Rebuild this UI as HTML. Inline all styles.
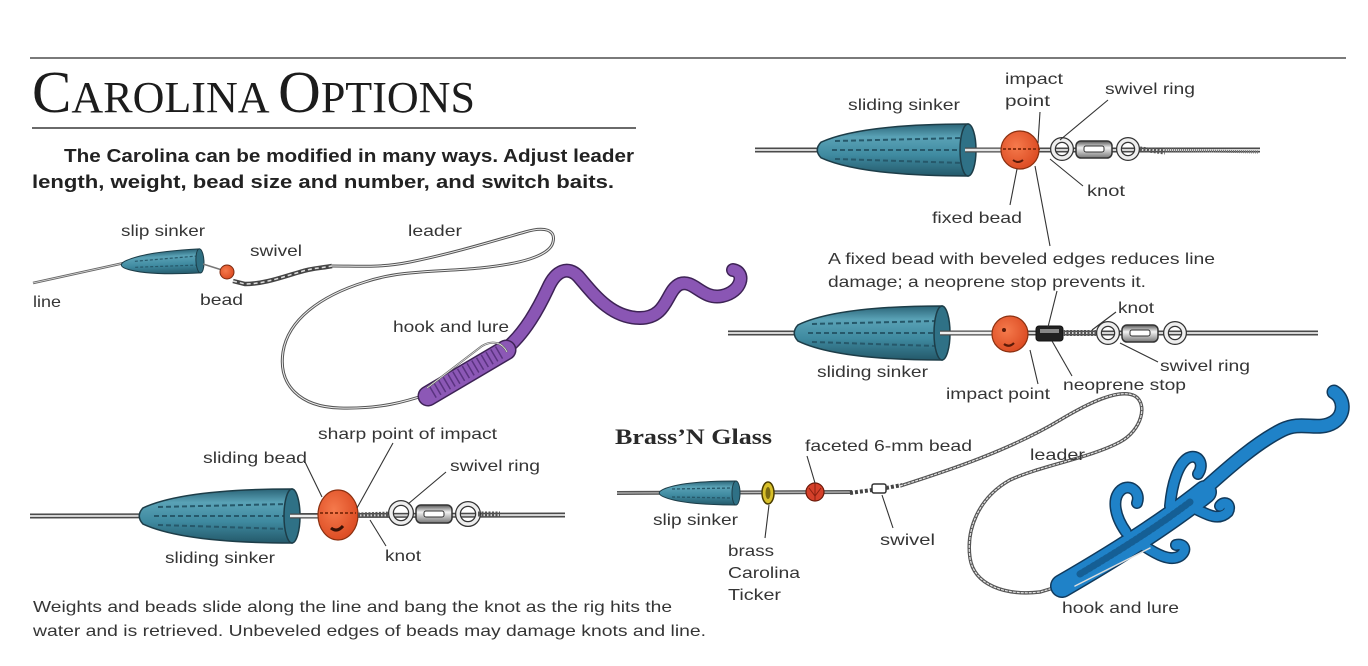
<!DOCTYPE html>
<html><head><meta charset="utf-8"><style>
html,body{margin:0;padding:0;background:#fff;}
svg{display:block;}
.lb{font-family:"Liberation Sans",sans-serif;font-size:16px;fill:#353535;}
.ld{stroke:#333;stroke-width:1.1;fill:none;}
</style></head><body>
<svg width="1368" height="666" viewBox="0 0 1368 666" xmlns="http://www.w3.org/2000/svg">
<defs>
<linearGradient id="tl" x1="0" y1="0" x2="0" y2="1">
<stop offset="0" stop-color="#2b6477"/><stop offset="0.25" stop-color="#5aa2b6"/><stop offset="0.6" stop-color="#3f8aa0"/><stop offset="1" stop-color="#24596a"/>
</linearGradient>
<linearGradient id="mt" x1="0" y1="0" x2="0" y2="1">
<stop offset="0" stop-color="#555"/><stop offset="0.4" stop-color="#f2f2f2"/><stop offset="1" stop-color="#777"/>
</linearGradient>
<radialGradient id="or" cx="0.4" cy="0.4" r="0.7">
<stop offset="0" stop-color="#f57a4c"/><stop offset="1" stop-color="#d9461e"/>
</radialGradient>
</defs>

<!-- header -->
<line x1="30" y1="58" x2="1346" y2="58" stroke="#7a7a7a" stroke-width="2"/>
<text x="32" y="112" font-family="Liberation Serif,serif" fill="#1c1c1c" textLength="443" lengthAdjust="spacingAndGlyphs"><tspan font-size="59">C</tspan><tspan font-size="44">AROLINA </tspan><tspan font-size="59">O</tspan><tspan font-size="44">PTIONS</tspan></text>
<line x1="32" y1="128" x2="636" y2="128" stroke="#6a6a6a" stroke-width="2"/>
<text x="64" y="162" font-family="Liberation Sans,sans-serif" font-weight="bold" font-size="18" fill="#222" textLength="570" lengthAdjust="spacingAndGlyphs">The Carolina can be modified in many ways.  Adjust leader</text>
<text x="32" y="188" font-family="Liberation Sans,sans-serif" font-weight="bold" font-size="18" fill="#222" textLength="582" lengthAdjust="spacingAndGlyphs">length, weight, bead size and number, and switch baits.</text>

<!-- ================= TOP LEFT RIG ================= -->
<path d="M33,283 L124,263" stroke="#666" stroke-width="2.5" fill="none"/>
<path d="M33,283 L124,263" stroke="#ddd" stroke-width="0.8" fill="none"/>
<g transform="rotate(-3 160 263)">
<path d="M125,259.4 C141.5,252.2 176.6,251 200,251 L200,275 C176.6,275 141.5,273.8 125,266.6 C120,264.2 120,261.8 125,259.4 Z" fill="url(#tl)" stroke="#1d3d48" stroke-width="1"/>
<ellipse cx="200" cy="263" rx="4" ry="12" fill="#2f6f82" stroke="#1d3d48" stroke-width="1"/>
<line x1="135" y1="260" x2="196" y2="258" stroke="#26586a" stroke-width="1.2" stroke-dasharray="3 2"/>
<line x1="135" y1="266" x2="196" y2="267" stroke="#26586a" stroke-width="1.2" stroke-dasharray="3 2"/>
</g>
<line x1="203" y1="264" x2="222" y2="270" stroke="#777" stroke-width="1.5"/>
<circle cx="227" cy="272" r="7" fill="url(#or)" stroke="#7a2a10" stroke-width="1"/>
<!-- chain swivel -->
<path d="M233,281 L245,284 C265,284 285,276 300,272 C312,268 322,268 332,266" stroke="#444" stroke-width="4.5" fill="none"/>
<path d="M233,281 L245,284 C265,284 285,276 300,272 C312,268 322,268 332,266" stroke="#ddd" stroke-width="1.5" fill="none" stroke-dasharray="4 3"/>
<!-- leader -->
<path d="M332,266 C360,266 380,268 410,262 C450,254 490,242 525,232 C545,226 556,230 553,242 C550,256 520,264 480,268 C440,272 400,270 365,282 C320,296 288,320 283,352 C278,385 300,407 340,408 C380,409 405,402 428,394" stroke="#555" stroke-width="3" fill="none"/>
<path d="M332,266 C360,266 380,268 410,262 C450,254 490,242 525,232 C545,226 556,230 553,242 C550,256 520,264 480,268 C440,272 400,270 365,282 C320,296 288,320 283,352 C278,385 300,407 340,408 C380,409 405,402 428,394" stroke="#eee" stroke-width="1" fill="none"/>
<!-- purple lure -->
<path d="M502,352 C525,335 540,305 548,288 C556,270 568,266 578,276 C592,292 610,318 640,318 C668,318 666,290 680,284 C694,279 702,300 722,296 C742,292 746,272 733,270" stroke="#3e2356" stroke-width="14" fill="none" stroke-linecap="round"/>
<path d="M502,352 C525,335 540,305 548,288 C556,270 568,266 578,276 C592,292 610,318 640,318 C668,318 666,290 680,284 C694,279 702,300 722,296 C742,292 746,272 733,270" stroke="#8a56b4" stroke-width="11" fill="none" stroke-linecap="round"/>
<path d="M428,396 L506,350" stroke="#3e2356" stroke-width="21" fill="none" stroke-linecap="round"/>
<path d="M428,396 L506,350" stroke="#8c58b6" stroke-width="18" fill="none" stroke-linecap="round"/>
<path d="M432,392 L500,352" stroke="#5a3380" stroke-width="14" fill="none" stroke-dasharray="1.5 4"/>
<path d="M427,388 L482,346 C492,340 502,342 507,352" stroke="#666" stroke-width="2" fill="none"/>
<path d="M427,388 L482,346 C492,340 502,342 507,352" stroke="#eee" stroke-width="0.7" fill="none"/>

<text class="lb" x="121" y="236" textLength="84" lengthAdjust="spacingAndGlyphs">slip sinker</text>
<text class="lb" x="250" y="256" textLength="52" lengthAdjust="spacingAndGlyphs">swivel</text>
<text class="lb" x="408" y="236" textLength="54" lengthAdjust="spacingAndGlyphs">leader</text>
<text class="lb" x="33" y="307" textLength="28" lengthAdjust="spacingAndGlyphs">line</text>
<text class="lb" x="200" y="305" textLength="43" lengthAdjust="spacingAndGlyphs">bead</text>
<text class="lb" x="393" y="332" textLength="116" lengthAdjust="spacingAndGlyphs">hook and lure</text>

<!-- ================= TOP RIGHT RIG ================= -->
<line x1="755" y1="150" x2="1260" y2="150" stroke="#4a4a4a" stroke-width="5"/>
<line x1="755" y1="150" x2="1260" y2="150" stroke="#d6d6d6" stroke-width="2"/>
<path d="M821,142.2 C855.5,126.6 923,124 968,124 L968,176 C923,176 855.5,173.4 821,157.8 C816,152.6 816,147.4 821,142.2 Z" fill="url(#tl)" stroke="#1d3d48" stroke-width="1.5"/>
<line x1="835" y1="141" x2="962" y2="138" stroke="#26586a" stroke-width="2" stroke-dasharray="5 3"/>
<line x1="832" y1="150" x2="962" y2="150" stroke="#26586a" stroke-width="2" stroke-dasharray="5 3"/>
<line x1="835" y1="159" x2="962" y2="163" stroke="#26586a" stroke-width="2" stroke-dasharray="5 3"/>
<ellipse cx="968" cy="150" rx="8" ry="26" fill="#2f7186" stroke="#1d3d48" stroke-width="1.5"/>
<line x1="965" y1="150" x2="1005" y2="150" stroke="#4a4a4a" stroke-width="5"/>
<line x1="965" y1="150" x2="1005" y2="150" stroke="#e6e6e6" stroke-width="2.5"/>
<circle cx="1020" cy="150" r="19" fill="url(#or)" stroke="#8a3010" stroke-width="1.2"/>
<line x1="1003" y1="149" x2="1040" y2="149" stroke="#8a3010" stroke-width="2" stroke-dasharray="3 2"/>
<path d="M1013,160 q5,4 10,0" stroke="#5a1a08" stroke-width="2" fill="none"/>
<!-- swivel -->
<circle cx="1062" cy="149" r="9" fill="none" stroke="#333" stroke-width="6"/>
<circle cx="1062" cy="149" r="9" fill="none" stroke="#eee" stroke-width="3.5"/>
<rect x="1076" y="141" width="36" height="17" rx="5" fill="url(#mt)" stroke="#333" stroke-width="1.5"/>
<rect x="1084" y="146" width="20" height="6" rx="2" fill="#fff" stroke="#333" stroke-width="1"/>
<circle cx="1128" cy="149" r="9" fill="none" stroke="#333" stroke-width="6"/>
<circle cx="1128" cy="149" r="9" fill="none" stroke="#eee" stroke-width="3.5"/>
<path d="M1140,149 L1165,152" stroke="#555" stroke-width="5" stroke-dasharray="2 1.5"/>
<path d="M1165,150 L1258,152" stroke="#777" stroke-width="3" stroke-dasharray="1 1"/>
<!-- labels -->
<text class="lb" x="848" y="110" textLength="112" lengthAdjust="spacingAndGlyphs">sliding sinker</text>
<text class="lb" x="1005" y="84" textLength="58" lengthAdjust="spacingAndGlyphs">impact</text>
<text class="lb" x="1005" y="106" textLength="45" lengthAdjust="spacingAndGlyphs">point</text>
<text class="lb" x="1105" y="94" textLength="90" lengthAdjust="spacingAndGlyphs">swivel ring</text>
<text class="lb" x="1087" y="196" textLength="38" lengthAdjust="spacingAndGlyphs">knot</text>
<text class="lb" x="932" y="223" textLength="90" lengthAdjust="spacingAndGlyphs">fixed bead</text>
<line class="ld" x1="1040" y1="112" x2="1038" y2="143"/>
<line class="ld" x1="1108" y1="100" x2="1060" y2="140"/>
<line class="ld" x1="1083" y1="186" x2="1050" y2="159"/>
<line class="ld" x1="1010" y1="205" x2="1017" y2="169"/>
<line class="ld" x1="1035" y1="166" x2="1050" y2="246"/>

<text class="lb" x="828" y="264" textLength="387" lengthAdjust="spacingAndGlyphs">A fixed bead with beveled edges reduces line</text>
<text class="lb" x="828" y="287" textLength="318" lengthAdjust="spacingAndGlyphs">damage; a neoprene stop prevents it.</text>

<!-- ================= MIDDLE RIGHT RIG ================= -->
<line x1="728" y1="333" x2="1318" y2="333" stroke="#4a4a4a" stroke-width="5"/>
<line x1="728" y1="333" x2="1318" y2="333" stroke="#d6d6d6" stroke-width="2"/>
<path d="M798,324.9 C831.75,308.7 897.9,306 942,306 L942,360 C897.9,360 831.75,357.3 798,341.1 C793,335.7 793,330.3 798,324.9 Z" fill="url(#tl)" stroke="#1d3d48" stroke-width="1.5"/>
<line x1="812" y1="324" x2="936" y2="321" stroke="#26586a" stroke-width="2" stroke-dasharray="5 3"/>
<line x1="808" y1="333" x2="936" y2="333" stroke="#26586a" stroke-width="2" stroke-dasharray="5 3"/>
<line x1="812" y1="342" x2="936" y2="346" stroke="#26586a" stroke-width="2" stroke-dasharray="5 3"/>
<ellipse cx="942" cy="333" rx="8" ry="27" fill="#2f7186" stroke="#1d3d48" stroke-width="1.5"/>
<line x1="940" y1="333" x2="995" y2="333" stroke="#4a4a4a" stroke-width="5"/>
<line x1="940" y1="333" x2="995" y2="333" stroke="#eee" stroke-width="2.5"/>
<circle cx="1010" cy="334" r="18" fill="url(#or)" stroke="#8a3010" stroke-width="1.2"/>
<path d="M1004,344 q5,4 10,-1" stroke="#5a1a08" stroke-width="2.2" fill="none"/>
<circle cx="1004" cy="330" r="2" fill="#5a1a08"/>
<rect x="1036" y="326" width="27" height="15" rx="3" fill="#222" stroke="#111"/>
<rect x="1040" y="329" width="19" height="4" fill="#888"/>
<path d="M1063,333 L1096,333" stroke="#555" stroke-width="6" stroke-dasharray="2 1.5"/>
<circle cx="1108" cy="333" r="9" fill="none" stroke="#333" stroke-width="6"/>
<circle cx="1108" cy="333" r="9" fill="none" stroke="#eee" stroke-width="3.5"/>
<rect x="1122" y="325" width="36" height="17" rx="5" fill="url(#mt)" stroke="#333" stroke-width="1.5"/>
<rect x="1130" y="330" width="20" height="6" rx="2" fill="#fff" stroke="#333" stroke-width="1"/>
<circle cx="1175" cy="333" r="9" fill="none" stroke="#333" stroke-width="6"/>
<circle cx="1175" cy="333" r="9" fill="none" stroke="#eee" stroke-width="3.5"/>
<line class="ld" x1="1057" y1="291" x2="1048" y2="327"/>
<line class="ld" x1="1116" y1="312" x2="1092" y2="330"/>
<line class="ld" x1="1158" y1="362" x2="1120" y2="343"/>
<line class="ld" x1="1072" y1="376" x2="1052" y2="341"/>
<line class="ld" x1="1038" y1="384" x2="1030" y2="350"/>
<text class="lb" x="1118" y="313" textLength="36" lengthAdjust="spacingAndGlyphs">knot</text>
<text class="lb" x="1160" y="371" textLength="90" lengthAdjust="spacingAndGlyphs">swivel ring</text>
<text class="lb" x="1063" y="390" textLength="123" lengthAdjust="spacingAndGlyphs">neoprene stop</text>
<text class="lb" x="946" y="399" textLength="104" lengthAdjust="spacingAndGlyphs">impact point</text>
<text class="lb" x="817" y="377" textLength="111" lengthAdjust="spacingAndGlyphs">sliding sinker</text>

<!-- ================= BOTTOM LEFT RIG ================= -->
<line x1="30" y1="516" x2="565" y2="515" stroke="#4a4a4a" stroke-width="5"/>
<line x1="30" y1="516" x2="565" y2="515" stroke="#d6d6d6" stroke-width="2"/>
<path d="M143,507.9 C178,491.7 246.4,489 292,489 L292,543 C246.4,543 178,540.3 143,524.1 C138,518.7 138,513.3 143,507.9 Z" fill="url(#tl)" stroke="#1d3d48" stroke-width="1.5"/>
<line x1="158" y1="507" x2="286" y2="504" stroke="#26586a" stroke-width="2" stroke-dasharray="5 3"/>
<line x1="154" y1="516" x2="286" y2="516" stroke="#26586a" stroke-width="2" stroke-dasharray="5 3"/>
<line x1="158" y1="525" x2="286" y2="529" stroke="#26586a" stroke-width="2" stroke-dasharray="5 3"/>
<ellipse cx="292" cy="516" rx="8" ry="27" fill="#2f7186" stroke="#1d3d48" stroke-width="1.5"/>
<line x1="290" y1="516" x2="322" y2="516" stroke="#4a4a4a" stroke-width="5"/>
<line x1="290" y1="516" x2="322" y2="516" stroke="#eee" stroke-width="2.5"/>
<ellipse cx="338" cy="515" rx="20" ry="25" fill="url(#or)" stroke="#8a3010" stroke-width="1.2"/>
<line x1="320" y1="513" x2="356" y2="513" stroke="#8a3010" stroke-width="2" stroke-dasharray="3 2"/>
<path d="M331,528 q6,5 12,-2" stroke="#3a1206" stroke-width="3" fill="none"/>
<path d="M358,515 L392,514" stroke="#555" stroke-width="5" stroke-dasharray="2 1.5"/>
<circle cx="401" cy="513" r="10" fill="none" stroke="#333" stroke-width="6"/>
<circle cx="401" cy="513" r="10" fill="none" stroke="#eee" stroke-width="3.5"/>
<rect x="416" y="505" width="36" height="18" rx="5" fill="url(#mt)" stroke="#333" stroke-width="1.5"/>
<rect x="424" y="511" width="20" height="6" rx="2" fill="#fff" stroke="#333" stroke-width="1"/>
<circle cx="468" cy="514" r="10" fill="none" stroke="#333" stroke-width="6"/>
<circle cx="468" cy="514" r="10" fill="none" stroke="#eee" stroke-width="3.5"/>
<path d="M478,514 L500,514" stroke="#555" stroke-width="5" stroke-dasharray="2 1.5"/>
<line class="ld" x1="305" y1="462" x2="322" y2="497"/>
<line class="ld" x1="393" y1="443" x2="357" y2="508"/>
<line class="ld" x1="446" y1="472" x2="408" y2="504"/>
<line class="ld" x1="386" y1="546" x2="370" y2="520"/>
<text class="lb" x="318" y="439" textLength="179" lengthAdjust="spacingAndGlyphs">sharp point of impact</text>
<text class="lb" x="203" y="463" textLength="104" lengthAdjust="spacingAndGlyphs">sliding bead</text>
<text class="lb" x="450" y="471" textLength="90" lengthAdjust="spacingAndGlyphs">swivel ring</text>
<text class="lb" x="165" y="563" textLength="110" lengthAdjust="spacingAndGlyphs">sliding sinker</text>
<text class="lb" x="385" y="561" textLength="36" lengthAdjust="spacingAndGlyphs">knot</text>
<text class="lb" x="33" y="612" textLength="639" lengthAdjust="spacingAndGlyphs">Weights and beads slide along the line and bang the knot as the rig hits the</text>
<text class="lb" x="33" y="636" textLength="673" lengthAdjust="spacingAndGlyphs">water and is retrieved.  Unbeveled edges of beads may damage knots and line.</text>

<!-- ================= BRASS'N GLASS ================= -->
<text x="615" y="444" font-family="Liberation Serif,serif" font-weight="bold" font-size="22" fill="#2a2a2a" textLength="157" lengthAdjust="spacingAndGlyphs">Brass’N Glass</text>
<line x1="617" y1="493" x2="852" y2="492" stroke="#555" stroke-width="4"/>
<line x1="617" y1="493" x2="852" y2="492" stroke="#bbb" stroke-width="1.2"/>
<path d="M663,489.4 C679,482.2 713.2,481 736,481 L736,505 C713.2,505 679,503.8 663,496.6 C658,494.2 658,491.8 663,489.4 Z" fill="url(#tl)" stroke="#1d3d48" stroke-width="1"/>
<line x1="672" y1="489" x2="732" y2="488" stroke="#26586a" stroke-width="1.3" stroke-dasharray="3 2"/>
<line x1="672" y1="497" x2="732" y2="498" stroke="#26586a" stroke-width="1.3" stroke-dasharray="3 2"/>
<ellipse cx="736" cy="493" rx="4" ry="12" fill="#2f7186" stroke="#1d3d48" stroke-width="1"/>
<ellipse cx="768" cy="493" rx="6" ry="11" fill="#d8c02a" stroke="#4a3c00" stroke-width="1.5"/>
<ellipse cx="768" cy="493" rx="2.5" ry="6" fill="#7a6a10"/>
<circle cx="815" cy="492" r="9" fill="#d5402a" stroke="#6a1a0a" stroke-width="1.2"/>
<path d="M809,488 L815,496 L821,488 M815,483 L815,501" stroke="#8a2010" stroke-width="1" fill="none"/>
<!-- swivel -->
<path d="M850,493 L872,490" stroke="#444" stroke-width="4" stroke-dasharray="3 2"/>
<rect x="872" y="484" width="14" height="9" rx="2" fill="#fff" stroke="#333" stroke-width="1.5"/>
<path d="M886,488 L902,485" stroke="#444" stroke-width="4" stroke-dasharray="3 2"/>
<!-- leader -->
<path d="M900,486 C950,470 1010,450 1060,420 C1090,402 1120,388 1135,396 C1148,404 1142,430 1120,442 C1090,458 1040,466 1010,480 C978,498 966,530 970,558 C974,585 1005,596 1040,592 L1060,586" stroke="#555" stroke-width="3.5" fill="none"/>
<path d="M900,486 C950,470 1010,450 1060,420 C1090,402 1120,388 1135,396 C1148,404 1142,430 1120,442 C1090,458 1040,466 1010,480 C978,498 966,530 970,558 C974,585 1005,596 1040,592 L1060,586" stroke="#e4e4e4" stroke-width="1.2" fill="none" stroke-dasharray="3 1"/>
<!-- lizard -->
<g stroke-linecap="round" stroke-linejoin="round" fill="none">
<g stroke="#113a5c">
<path d="M1198,495 C1232,464 1258,442 1282,430 C1302,420 1318,432 1334,422 C1346,414 1344,398 1334,392" stroke-width="15"/>
<path d="M1126,532 C1114,515 1112,498 1121,490 C1130,483 1141,492 1137,503" stroke-width="12"/>
<path d="M1170,506 C1172,484 1178,464 1188,458 C1198,453 1205,464 1198,474" stroke-width="12"/>
<path d="M1190,506 C1206,514 1218,522 1228,512 C1232,504 1224,500 1220,506" stroke-width="12"/>
<path d="M1144,546 C1156,554 1170,562 1180,556 C1188,550 1184,543 1176,545" stroke-width="12"/>
<path d="M1062,586 C1100,564 1160,528 1205,492" stroke-width="24"/>
</g>
<g stroke="#1f82c8">
<path d="M1198,495 C1232,464 1258,442 1282,430 C1302,420 1318,432 1334,422 C1346,414 1344,398 1334,392" stroke-width="12"/>
<path d="M1126,532 C1114,515 1112,498 1121,490 C1130,483 1141,492 1137,503" stroke-width="9"/>
<path d="M1170,506 C1172,484 1178,464 1188,458 C1198,453 1205,464 1198,474" stroke-width="9"/>
<path d="M1190,506 C1206,514 1218,522 1228,512 C1232,504 1224,500 1220,506" stroke-width="9"/>
<path d="M1144,546 C1156,554 1170,562 1180,556 C1188,550 1184,543 1176,545" stroke-width="9"/>
<path d="M1062,586 C1100,564 1160,528 1205,492" stroke-width="21"/>
</g>
<path d="M1080,574 C1110,556 1150,532 1190,502" stroke="#155f95" stroke-width="7" stroke-dasharray="2 3"/>
<path d="M1075,586 L1150,548" stroke="#ddd" stroke-width="1.5"/>
</g>
<line class="ld" x1="807" y1="456" x2="815" y2="483"/>
<line class="ld" x1="765" y1="538" x2="769" y2="505"/>
<line class="ld" x1="893" y1="528" x2="882" y2="495"/>
<text class="lb" x="805" y="451" textLength="167" lengthAdjust="spacingAndGlyphs">faceted 6-mm bead</text>
<text class="lb" x="1030" y="460" textLength="55" lengthAdjust="spacingAndGlyphs">leader</text>
<text class="lb" x="653" y="525" textLength="85" lengthAdjust="spacingAndGlyphs">slip sinker</text>
<text class="lb" x="728" y="556" textLength="46" lengthAdjust="spacingAndGlyphs">brass</text>
<text class="lb" x="728" y="578" textLength="72" lengthAdjust="spacingAndGlyphs">Carolina</text>
<text class="lb" x="728" y="600" textLength="53" lengthAdjust="spacingAndGlyphs">Ticker</text>
<text class="lb" x="880" y="545" textLength="55" lengthAdjust="spacingAndGlyphs">swivel</text>
<text class="lb" x="1062" y="613" textLength="117" lengthAdjust="spacingAndGlyphs">hook and lure</text>
</svg>
</body></html>
